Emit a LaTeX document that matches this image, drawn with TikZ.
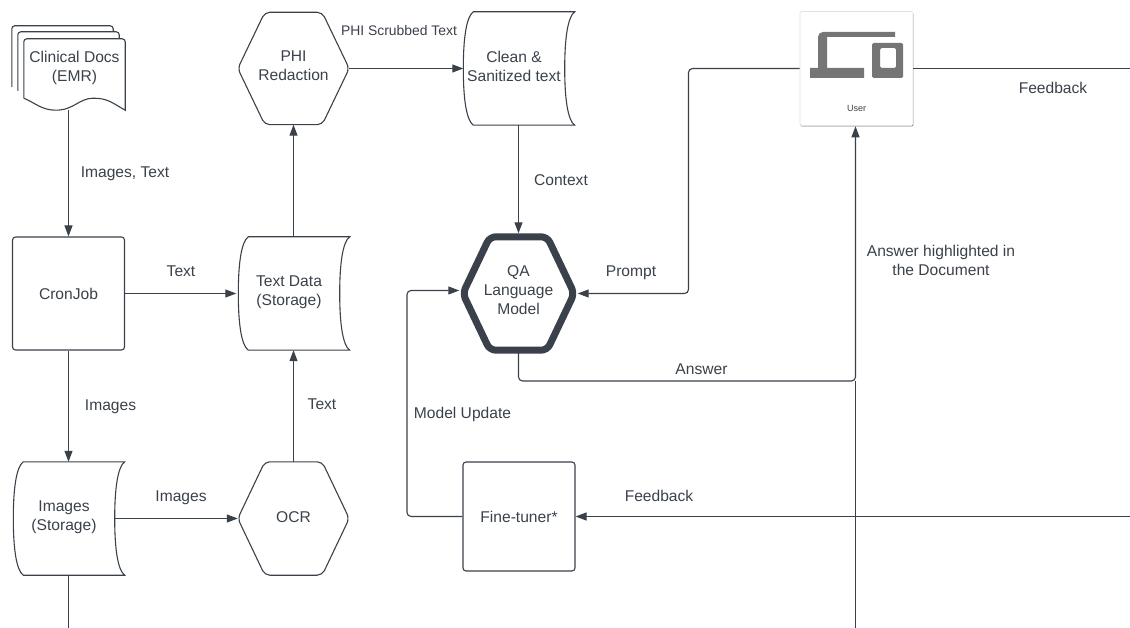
\documentclass[tikz,border=0pt]{standalone}
\usepackage{fontspec}
\setmainfont{Liberation Sans}
\usetikzlibrary{arrows.meta,calc,shadows}
\definecolor{inkline}{HTML}{3A414A}
\definecolor{icongray}{HTML}{757575}
\tikzset{
    textnode/.style={text=inkline, font=\fontsize{15.6}{19}\selectfont, align=center, inner sep=0pt},
    boxnode/.style={textnode, draw=inkline, line width=1.1pt, rounded corners=3pt, minimum width=112pt, minimum height=113pt},
    hexnode/.style={textnode, minimum width=111pt, minimum height=112pt, text depth=6pt},
    storenode/.style={textnode, minimum width=101pt, minimum height=113pt, text depth=5pt},
    outline/.style={draw=inkline, line width=1.1pt},
    conn/.style={draw=inkline, line width=1.1pt, rounded corners=4pt},
    flow/.style={conn, -{Triangle[length=11pt,width=8pt]}}
}
\newcommand{\hexline}[2][]{
    \draw[outline, rounded corners=5pt, #1] (#2.west) -- ($(#2.north west)+(27,0)$) -- ($(#2.north east)+(-27,0)$)
        -- (#2.east) -- ($(#2.south east)+(-27,0)$) -- ($(#2.south west)+(27,0)$) -- cycle;
}
\newcommand{\storeline}[1]{
    \draw[outline] ($(#1.north west)+(10,0)$) .. controls +(-7,5) and +(0,-30) .. (#1.west)
        .. controls +(0,30) and +(-7,-5) .. ($(#1.south west)+(10,0)$) -- ($(#1.south east)+(10,0)$)
        .. controls +(-7,-5) and +(0,30) .. (#1.east)
        .. controls +(0,-30) and +(-7,5) .. ($(#1.north east)+(10,0)$) -- cycle;
}
\begin{document}
\begin{tikzpicture}[x=1pt, y=-1pt]
    \useasboundingbox (0,0) rectangle (1130,628);

    \node[textnode, minimum width=101pt, minimum height=71pt, text depth=17pt] (docs) at (74.5,74.5) {Clinical Docs\\(EMR)};
    \draw[outline, rounded corners=3pt] ($(docs.north west)+(-12,48)$) -- ($(docs.north west)+(-12,-13)$)
        -- ($(docs.north east)+(-12,-13)$) -- ($(docs.north east)+(-12,-7)$);
    \draw[outline, rounded corners=3pt] ($(docs.north west)+(-6,52)$) -- ($(docs.north west)+(-6,-7)$)
        -- ($(docs.north east)+(-6,-7)$) -- ($(docs.north east)+(-6,0)$);
    \draw[outline] ($(docs.south west)+(0,-12)$) {[rounded corners=3pt] -- (docs.north west) -- (docs.north east)} -- (docs.south east)
        .. controls +(-14,-8) and +(14,0) .. ($(docs.south east)+(-32,-12)$)
        .. controls +(-14,0) and +(18,0) .. ($(docs.south west)+(32,0)$)
        .. controls +(-14,0) and +(12,5) .. ($(docs.south west)+(0,-12)$);

    \node[boxnode] (cron) at (68.5,293.5) {CronJob};
    \node[boxnode, minimum height=109pt] (tuner) at (519,516.5) {Fine-tuner*};

    \node[storenode] (images) at (64,518.5) {Images\\(Storage)};
    \node[storenode] (textdata) at (289,293.5) {Text Data\\(Storage)};
    \node[storenode] (clean) at (514,68.5) {Clean \&\\Sanitized text};
    \storeline{images}
    \storeline{textdata}
    \storeline{clean}

    \node[hexnode] (phi) at (293.5,68.5) {PHI\\Redaction};
    \node[hexnode, minimum height=113pt, text depth=3pt] (ocr) at (293.5,518.5) {OCR};
    \node[hexnode, minimum height=113pt] (qa) at (518.5,293.5) {QA\\Language\\Model};
    \hexline{phi}
    \hexline{ocr}
    \hexline[line width=7pt, rounded corners=6pt]{qa}

    \node[draw=black!12, line width=0.6pt, fill=white, rounded corners=1.5pt, minimum width=113pt, minimum height=114pt,
        drop shadow={shadow xshift=0.4pt, shadow yshift=-1pt, fill=black!55, opacity=1}] (user) at (856.5,68.5) {};
    \node[font=\fontsize{9}{11}\selectfont, text=black!75, inner sep=0pt] (userlabel) at (856.5,108) {User};
    \fill[icongray] (810,78) -- (810,68) -- (818,68) [rounded corners=5pt] -- (818,32) [sharp corners] -- (895,32) -- (895,37)
        -- (827,37) -- (827,68) -- (864,68) -- (864,78) -- cycle;
    \fill[icongray, rounded corners=1.5pt, even odd rule] (872,43) rectangle (903,78) (880,48) rectangle (896,68);

    \coordinate (imagesout) at (68.5,628);
    \coordinate (useroutr) at (1130,68.5);
    \coordinate (feedbackin) at (1130,516.5);
    \coordinate (answerup) at (855.5,628);

    \draw[flow] ([xshift=-6]docs.south) -- (cron.north);
    \draw[flow] (cron.east) -- ([xshift=-2]textdata.west);
    \draw[flow] (cron.south) -- ([xshift=4.5]images.north);
    \draw[conn] ([xshift=4.5]images.south) -- (imagesout);
    \draw[flow] (images.east) -- (ocr.west);
    \draw[flow] (ocr.north) -- ([xshift=4.5]textdata.south);
    \draw[flow] ([xshift=4.5]textdata.north) -- (phi.south);
    \draw[flow] (phi.east) -- (clean.west);
    \draw[flow] ([xshift=4.5]clean.south) -- ($(qa.north)+(0,-3.5)$);
    \draw[flow] (user.west) -| (688.5,293.5) -- ($(qa.east)+(3.5,0)$);
    \draw[conn] (user.east) -- (useroutr);
    \draw[flow] ($(qa.south)+(0,3)$) |- (855.5,381) -- ([xshift=-1,yshift=-0.5]user.south);
    \draw[conn] (answerup) -- (855.5,381);
    \draw[flow] (feedbackin) -- (tuner.east);
    \draw[flow] (tuner.west) -| (407,290.5) -- ($(qa.west)+(-3.5,-3)$);

    \node[textnode] (lblimagestext) at (125,174) {Images, Text};
    \node[textnode] (lbltext) at (181,271) {Text};
    \node[textnode] (lblimages) at (110.5,407) {Images};
    \node[textnode] (lblimagesocr) at (181,498) {Images};
    \node[textnode] (lbltextocr) at (322,404) {Text};
    \node[textnode, font=\fontsize{13.9}{16}\selectfont] (lblscrubbed) at (399,31) {PHI Scrubbed Text};
    \node[textnode] (lblcontext) at (561,180) {Context};
    \node[textnode] (lblprompt) at (631,273) {Prompt};
    \node[textnode] (lblanswer) at (701.5,369) {Answer};
    \node[textnode] (lblhighlight) at (941,260) {Answer highlighted in\\the Document};
    \node[textnode] (lblupdate) at (462.5,414) {Model Update};
    \node[textnode] (lblfeedback) at (659,496) {Feedback};
    \node[textnode] (lblfeedbackr) at (1053,88) {Feedback};
\end{tikzpicture}
\end{document}
